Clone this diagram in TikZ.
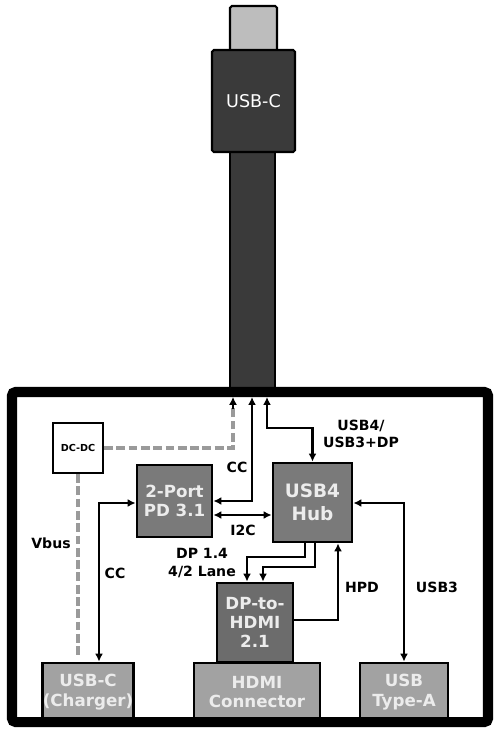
\documentclass[tikz,border=0pt]{standalone}
\usepackage{fontspec}
\setmainfont{DejaVu Sans}
\usetikzlibrary{arrows.meta,positioning}
\definecolor{cable}{HTML}{3A3A3A}
\definecolor{plug}{HTML}{BDBDBD}
\definecolor{chip}{HTML}{7A7A7A}
\definecolor{chipdark}{HTML}{6C6C6C}
\definecolor{port}{HTML}{A2A2A2}
\definecolor{chiptext}{HTML}{ECECEC}
\definecolor{pwrgray}{HTML}{9A9A9A}

\tikzset{
  chipbox/.style={draw=black,line width=1.6pt,fill=chip,text=chiptext,
    font=\bfseries\fontsize{9.5}{11}\selectfont,align=center,inner sep=0pt},
  portbox/.style={draw=black,line width=1.6pt,fill=port,text=chiptext,
    font=\bfseries\fontsize{9.5}{11}\selectfont,align=center,inner sep=0pt},
  conn/.style={line width=1.2pt,black,{Latex[length=4.5pt,width=4.5pt]}-{Latex[length=4.5pt,width=4.5pt]}},
  oneway/.style={line width=1.2pt,black,-{Latex[length=4.5pt,width=4.5pt]}},
  pwr/.style={line width=2pt,pwrgray,dash pattern=on 5pt off 2pt},
  lbl/.style={font=\bfseries\fontsize{8}{10}\selectfont,align=center,inner sep=0pt}
}

\begin{document}
\begin{tikzpicture}[x=0.02cm,y=-0.02cm]
  \useasboundingbox (0,0) rectangle (500,734);

  % cable and plug
  \draw[fill=cable,line width=1.2pt] (230,152) rectangle (275,392);
  \draw[fill=plug,line width=1.2pt,rounded corners=1pt] (230,6) rectangle (277,54);
  \node[draw=black,line width=1.2pt,fill=cable,text=white,minimum width=83*0.02cm,
    minimum height=102*0.02cm,font=\fontsize{10}{12}\selectfont,rounded corners=1pt]
    (usbplug) at (253.5,101) {USB-C};

  % ports at the bottom
  \node[portbox,minimum width=90*0.02cm,minimum height=58*0.02cm] (charger) at (88,692) {USB-C\\(Charger)};
  \node[portbox,minimum width=126*0.02cm,minimum height=58*0.02cm] (hdmi) at (257,692) {HDMI\\Connector};
  \node[portbox,minimum width=88*0.02cm,minimum height=58*0.02cm] (typea) at (404,692) {USB\\Type-A};

  % enclosure
  \draw[line width=5.7pt,rounded corners=2pt] (12,392) rectangle (488,722);

  % cable end points
  \coordinate (dcT) at (233,397);
  \coordinate (ccT) at (252,397);
  \coordinate (usbT) at (267,397);

  % chips
  \node[draw=black,line width=1.2pt,fill=white,minimum size=50*0.02cm,inner sep=0pt,
    font=\bfseries\fontsize{5.5}{7}\selectfont] (dcdc) at (78,448) {DC-DC};
  \node[chipbox,minimum width=75*0.02cm,minimum height=72*0.02cm] (pd) at (174.5,501) {2-Port\\PD 3.1};
  \node[chipbox,minimum width=79*0.02cm,minimum height=79*0.02cm,font=\bfseries\fontsize{10.5}{13}\selectfont] (hub) at (312.5,502.5) {USB4\\Hub};
  \node[chipbox,fill=chipdark,minimum width=76*0.02cm,minimum height=79*0.02cm] (dp2hdmi) at (255,622.5) {DP-to-\\HDMI\\2.1};

  % power
  \draw[pwr] (dcdc.east) -| ([yshift=-5*0.02cm]dcT);
  \draw[black,-{Latex[length=4.5pt,width=4.5pt]},line width=0.6pt] ([yshift=-12*0.02cm]dcT) -- (dcT);
  \draw[pwr] (dcdc.south) -- (dcdc.south |- 0,657);

  % signals
  \draw[conn] (ccT) |- (pd.east);
  \draw[conn] (pd.east |- 0,515) -- (hub.west |- 0,515);
  \draw[conn] (usbT) |- (hub.north |- 0,428) -- (hub.north);
  \draw[conn] (pd.west |- 0,503) -| (charger.north -| 99,0);
  \draw[conn] (hub.east |- 0,503) -| (typea.north);
  \draw[oneway] (hub.south -| 305,0) |- (247,557) -- (dp2hdmi.north -| 247,0);
  \draw[oneway] (hub.south -| 315,0) |- (263,567) -- (dp2hdmi.north -| 263,0);
  \draw[oneway] (dp2hdmi.east |- 0,620) -| (hub.south -| 338,0);

  % labels
  \node[lbl] (ccLbl) at (237,467) {CC};
  \node[lbl] (i2cLbl) at (243,530) {I2C};
  \node[lbl] (usb4Lbl) at (361,434) {USB4/\\USB3+DP};
  \node[lbl] (dpLbl) at (202,563) {DP 1.4\\4/2 Lane};
  \node[lbl] (hpdLbl) at (362,587) {HPD};
  \node[lbl] (usb3Lbl) at (437,587) {USB3};
  \node[lbl] (ccLblB) at (115,573) {CC};
  \node[lbl] (vbusLbl) at (51,543) {Vbus};
\end{tikzpicture}
\end{document}
